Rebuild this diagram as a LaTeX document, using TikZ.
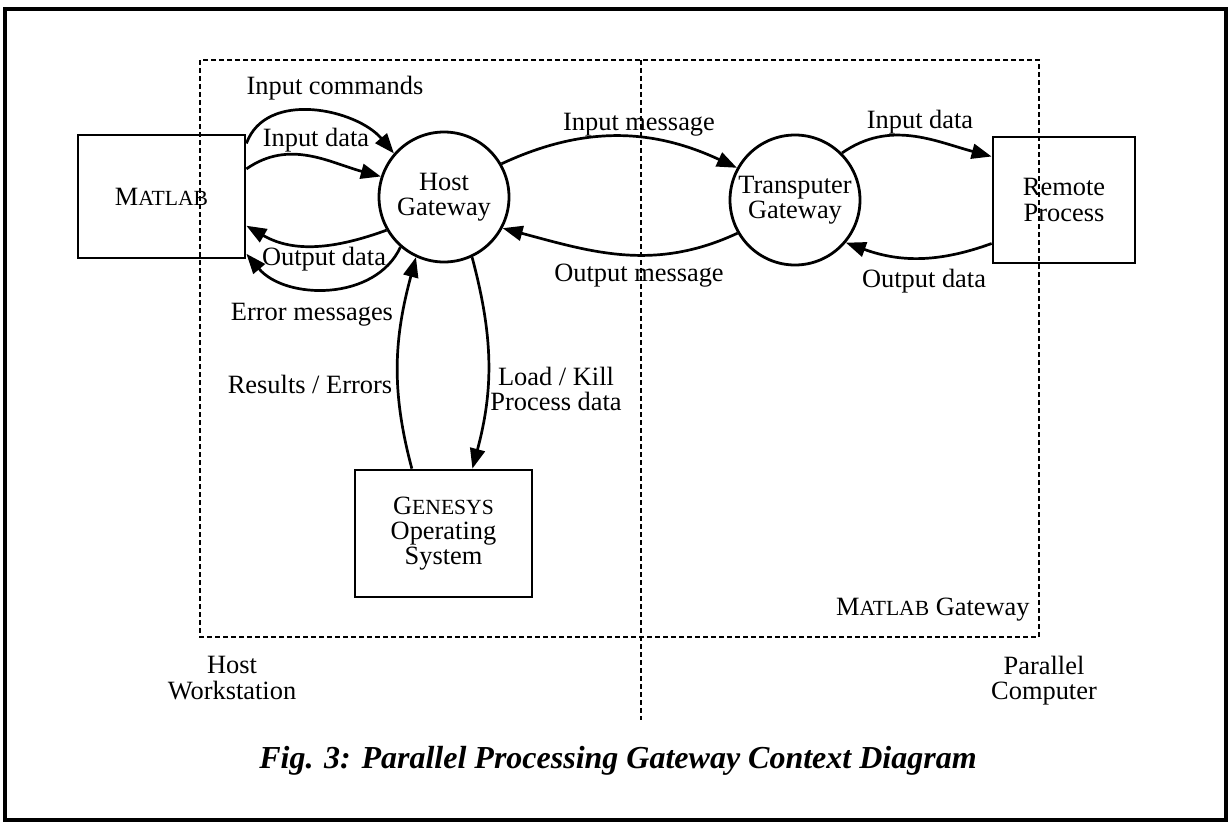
\documentclass[tikz,border=0pt]{standalone}
\usepackage{fontspec}
\setmainfont{Liberation Serif}
\usetikzlibrary{arrows.meta}
\newcommand\lblsize{\fontsize{13.2pt}{12.6pt}\selectfont}
\newcommand\sccap[2]{#1{\fontsize{10.8pt}{12.6pt}\selectfont #2}}

\begin{document}
\begin{tikzpicture}[
    flow/.style={-{Triangle[length=10pt,width=7.5pt]}, line width=1.35pt},
    proc/.style={draw, circle, line width=1.4pt, minimum size=65pt, inner sep=0pt, align=center, font=\lblsize},
    term/.style={draw, rectangle, line width=1.4pt, inner sep=0pt, align=center, font=\lblsize},
    lbl/.style={inner sep=0pt, anchor=base, align=center, font=\lblsize},
    region/.style={line width=1pt, dash pattern=on 2.5pt off 1.5pt}]
    \def\x{0.5pt}
    \def\y{0.5pt}
    \useasboundingbox (0,0) rectangle (1230*\x,-824*\y);
    \draw [line width=1.6pt] (5*\x,-9*\y) rectangle (1226*\x,-820*\y);
    % gateway boundary and machine split
    \draw [region] (200*\x,-60*\y) rectangle (1039*\x,-637*\y);
    \draw [region] (641*\x,-60*\y) -- (641*\x,-720*\y);
    \node [term, minimum width=83.5pt, minimum height=61.5pt] (matlab) at (161.5*\x,-196.5*\y) {\sccap{M}{ATLAB}};
    \node [proc] (host) at (444*\x,-197*\y) {Host\\Gateway};
    \node [proc] (trans) at (795*\x,-200*\y) {Transputer\\Gateway};
    \node [term, minimum width=71pt, minimum height=63pt] (remote) at (1064*\x,-200*\y) {Remote\\Process};
    \node [term, minimum width=88.5pt, minimum height=63.5pt] (genesys) at (443.5*\x,-533.5*\y) {\sccap{G}{ENESYS}\\Operating\\System};
    % data flows
    \draw [flow] (matlab.32) to [out=70,in=130] (host.139);
    \draw [flow] (matlab.18) to [out=35,in=165] (host.162);
    \draw [flow] (host.210) to [out=200,in=-30] (matlab.-19);
    \draw [flow] (host.229) to [out=245,in=-50] (matlab.-34);
    \draw [flow] (host.30) to [out=25,in=155] (trans.151);
    \draw [flow] (trans.210) to [out=205,in=-15] (host.-28);
    \draw [flow] (trans.45) to [out=35,in=165] (remote.149);
    \draw [flow] (remote.211) to [out=200,in=-20] (trans.-40);
    \draw [flow] (genesys.116) to [out=105,in=255] (host.245);
    \draw [flow] (host.-65) to [out=-75,in=75] (genesys.66);
    % flow labels
    \node [lbl] (lcmd) at (335*\x,-95*\y) {Input commands};
    \node [lbl] (lindata) at (316*\x,-147*\y) {Input data};
    \node [lbl] (loutdata) at (324*\x,-265*\y) {Output data};
    \node [lbl] (lerr) at (312*\x,-320*\y) {Error messages};
    \node [lbl] (lres) at (310*\x,-393*\y) {Results / Errors};
    \node [lbl, anchor=center] (lload) at (556*\x,-389*\y) {Load / Kill\\Process data};
    \node [lbl] (linmsg) at (639*\x,-131*\y) {Input message};
    \node [lbl] (loutmsg) at (639*\x,-281*\y) {Output message};
    \node [lbl] (lrin) at (920*\x,-128*\y) {Input data};
    \node [lbl] (lrout) at (924*\x,-287*\y) {Output data};
    % regions
    \node [lbl, anchor=base east] (lgw) at (1030*\x,-615*\y) {\sccap{M}{ATLAB} Gateway};
    \node [lbl, anchor=center] (lhostws) at (232*\x,-678*\y) {Host\\Workstation};
    \node [lbl, anchor=center] (lpar) at (1044*\x,-681*\y) {Parallel\\Computer};
    \node [lbl, font=\fontsize{16pt}{18pt}\selectfont\bfseries\itshape] (caption) at (618*\x,-768*\y) {Fig. 3: Parallel Processing Gateway Context Diagram};
  \end{tikzpicture}
\end{document}
